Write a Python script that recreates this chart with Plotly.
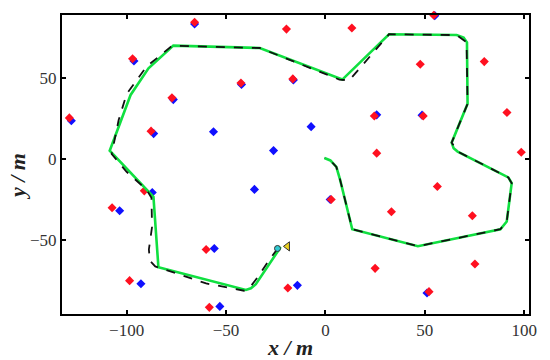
import plotly.graph_objects as go

# True landmark positions (red)
true_lm_x = [-65.8, -97.0, -77.2, -128.8, -87.7, -42.5, -19.6, 13.3, -16.4, 54.5, 47.7, 79.9, 24.6, 49.2, 91.3,
             25.8, 98.5, 56.3, 33.2, 73.9, 25.0, 75.2, 52.1, 2.9, -60.0, -18.9, -58.4, -91.1, -107.3, -98.5]
true_lm_y = [84.4, 61.9, 37.7, 25.3, 17.1, 46.9, 80.2, 80.9, 49.4, 88.7, 58.5, 60.1, 26.5, 26.5, 28.6,
             3.5, 4.1, -17.1, -32.7, -35.2, -67.7, -65.0, -82.1, -25.1, -56.0, -79.8, -91.8, -19.8, -30.2, -75.3]

# Estimated landmark positions (blue)
est_lm_x = [-65.8, -96.3, -76.5, -127.8, -86.4, -42.2, -16.1, 55.0, 25.8, 48.6, 51.1, 2.4, -55.9, -14.1, -53.1,
            -87.1, -103.5, -92.8, -56.3, -7.2, -26.1, -35.7, 21.1]
est_lm_y = [83.3, 60.5, 36.6, 23.5, 15.6, 45.9, 48.8, 88.5, 27.2, 27.0, -82.9, -25.1, -55.4, -78.2, -91.2,
            -20.8, -32.1, -77.2, 16.7, 19.9, 5.1, -18.9, -96.2]

# True trajectory (green)
true_x = [-22.5, -30, -35, -37.5, -40, -84, -86.5, -108.5, -98, -89, -76.5, -33, 8.5, 32, 66, 69.5, 71.2, 71.5,
          63.5, 64.5, 66.5, 92, 93.7, 91.2, 88, 46.5, 13.5, 7.4, 5.5, 2.5, -0.5]
true_y = [-54.5, -68, -77.5, -80, -81, -67, -23.5, 5, 39.5, 56, 70, 68.5, 49, 77, 76.5, 75, 72, 34,
          10, 6.5, 4.5, -11.5, -15, -38.7, -43.5, -54, -43.5, -13, -5, -1, 0.5]

# Estimated trajectory (black dashed)
est_x = [-24, -28, -34, -38, -41, -60, -73, -85.6, -88.3, -88.8, -87.2, -87.5, -90, -100, -107.5, -104, -100,
         -90, -77, -60, -33, 7, 12, 32, 66, 71, 71.5, 63.5, 66.5, 92, 93.7, 91.2, 88, 46.5, 13.5, 7.4, 5.5, 2.5, -0.5]
est_y = [-55.4, -62, -73, -79.5, -81.5, -77, -71.6, -66.5, -63, -56, -42, -24, -19, -8, 3, 24, 40,
         57, 70, 69.5, 68.5, 49, 48.5, 77, 76.5, 72, 34, 10, 4.5, -11.5, -15, -38.7, -43.5, -54, -43.5, -13, -5, -1, 0.5]

start_est = (-24.1, -55.4)
start_true = (-19.1, -54.1)

x_ticks = [-100, -50, 0, 50, 100]
y_ticks = [-50, 0, 50]

fig = go.Figure()
fig.add_trace(go.Scatter(x=est_lm_x, y=est_lm_y, mode="markers", cliponaxis=False,
                         marker=dict(symbol="diamond", size=7, color="#1010ff"), showlegend=False))
fig.add_trace(go.Scatter(x=true_lm_x, y=true_lm_y, mode="markers", cliponaxis=False,
                         marker=dict(symbol="diamond", size=7, color="#ff1020"), showlegend=False))
fig.add_trace(go.Scatter(x=true_x, y=true_y, mode="lines",
                         line=dict(color="#10e040", width=2.6), showlegend=False))
fig.add_trace(go.Scatter(x=est_x, y=est_y, mode="lines",
                         line=dict(color="#111111", width=1.8, dash="dash"), showlegend=False))
fig.add_trace(go.Scatter(x=[start_est[0]], y=[start_est[1]], mode="markers",
                         marker=dict(symbol="circle", size=6, color="#30c8d0", line=dict(color="#333", width=1)),
                         showlegend=False))
fig.add_trace(go.Scatter(x=[start_true[0]], y=[start_true[1]], mode="markers",
                         marker=dict(symbol="triangle-left", size=8, color="#e8d020", line=dict(color="#333", width=1)),
                         showlegend=False))

axis_common = dict(showgrid=False, zeroline=False, showline=True, linecolor="black", linewidth=2,
                   mirror="ticks", ticks="inside", ticklen=4, tickwidth=1.5, tickcolor="black",
                   tickfont=dict(family="Liberation Serif", size=17, color="#333333"))
fig.update_xaxes(range=[-132.5, 102.4], tickvals=x_ticks, **axis_common)
fig.update_yaxes(range=[-95.9, 88.9], tickvals=y_ticks, **axis_common)

fig.add_annotation(text="<b><i>x / m</i></b>", xref="paper", yref="paper", x=0.488, y=-0.062,
                   xanchor="center", yanchor="top", showarrow=False,
                   font=dict(family="Liberation Serif", size=22, color="#222222"))
fig.add_annotation(text="<b><i>y / m</i></b>", xref="paper", yref="paper", x=-0.095, y=0.46,
                   xanchor="center", yanchor="middle", textangle=-90, showarrow=False,
                   font=dict(family="Liberation Serif", size=22, color="#222222"))

fig.update_layout(width=550, height=360, margin=dict(l=62, r=21, t=15, b=46),
                  plot_bgcolor="white", paper_bgcolor="white")
fig.write_html("out.html", config={"displayModeBar": False},
               post_script="document.body.style.margin='0px';document.body.style.overflow='hidden';")
